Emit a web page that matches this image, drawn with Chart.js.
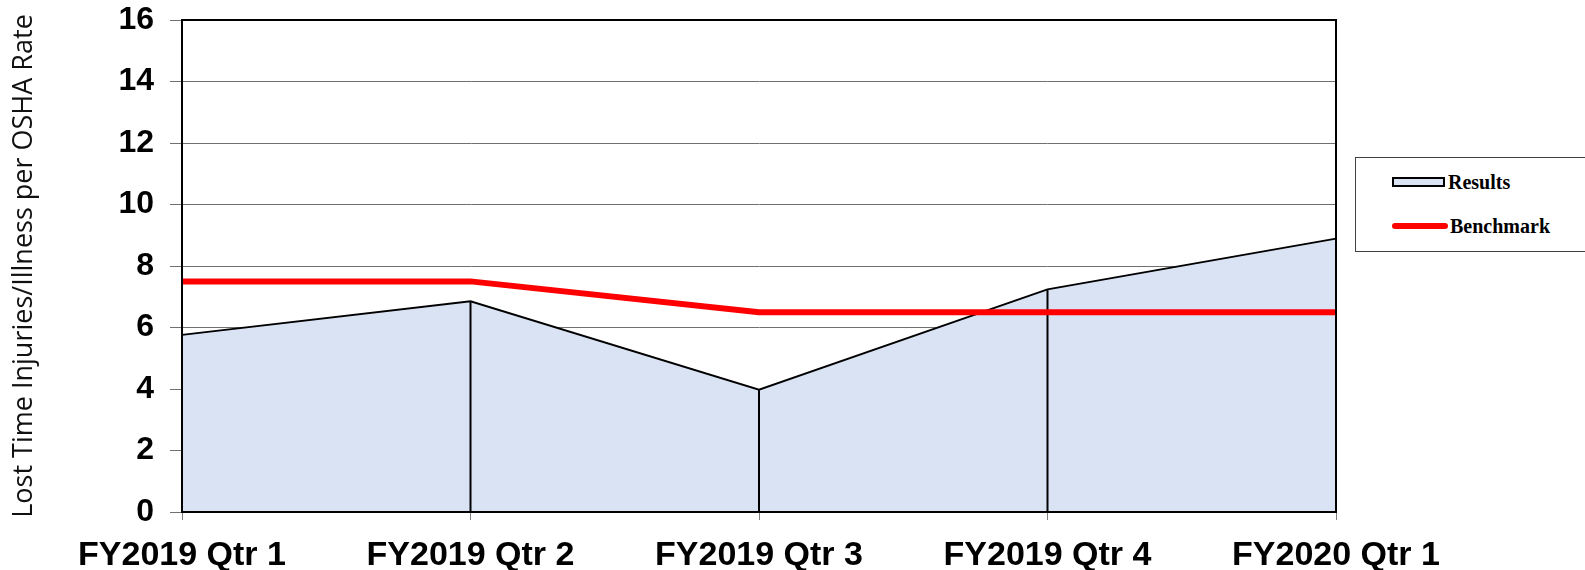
<!DOCTYPE html>
<html>
<head>
<meta charset="utf-8">
<script src="https://cdn.jsdelivr.net/npm/chart.js@4/dist/chart.umd.min.js"></script>
<style>
  html, body { margin: 0; padding: 0; background: #fff; }
  #wrap { position: relative; width: 1585px; height: 570px; }
  #legend {
    position: absolute; left: 1355px; top: 157px; width: 232px; height: 95px;
    border: 1px solid #404040; box-sizing: border-box; background: #fff;
    font-family: "Liberation Serif", serif; font-weight: bold; font-size: 20px; color: #000;
  }
  .item { position: absolute; left: 36px; display: flex; align-items: center; height: 20px; }
  .swatch { width: 53px; height: 10px; background: #dae3f3; border: 2px solid #000; box-sizing: border-box; margin-right: 3px; }
  .redline { width: 56px; height: 6px; background: #ff0000; border-radius: 3px; margin-right: 2px; }
</style>
</head>
<body>
<div id="wrap">
  <canvas id="chart" width="1585" height="570"></canvas>
  <div id="legend">
    <div class="item" style="top:14px;"><div class="swatch"></div>Results</div>
    <div class="item" style="top:58px;"><div class="redline"></div>Benchmark</div>
  </div>
</div>
<script>
// Categories and series
const quarters = ['FY2019 Qtr 1', 'FY2019 Qtr 2', 'FY2019 Qtr 3', 'FY2019 Qtr 4', 'FY2020 Qtr 1'];
const results = [5.76, 6.85, 3.98, 7.24, 8.89];
const benchmark = [7.5, 7.5, 6.5, 6.5, 6.5];
const yTicks = [0, 2, 4, 6, 8, 10, 12, 14, 16];

// Draw vertical lines from each Results point down to zero
const dropLines = {
  id: 'dropLines',
  afterDatasetDraw(chart, args) {
    if (args.index !== 0) return;
    const ctx = chart.ctx;
    const y0 = chart.scales.y.getPixelForValue(0);
    ctx.save();
    ctx.strokeStyle = '#000';
    ctx.lineWidth = 2;
    args.meta.data.forEach(pt => {
      ctx.beginPath();
      ctx.moveTo(pt.x, pt.y);
      ctx.lineTo(pt.x, y0);
      ctx.stroke();
    });
    ctx.restore();
  }
};

// Black frame round the plot area
const plotFrame = {
  id: 'plotFrame',
  afterDraw(chart) {
    const a = chart.chartArea;
    const ctx = chart.ctx;
    ctx.save();
    ctx.strokeStyle = '#000';
    ctx.lineWidth = 2;
    ctx.strokeRect(a.left, a.top, a.right - a.left, a.bottom - a.top);
    ctx.restore();
  }
};

const ctx = document.getElementById('chart');
new Chart(ctx, {
  type: 'line',
  data: {
    labels: quarters,
    datasets: [{
      label: 'Results',
      data: results,
      fill: 'origin',
      backgroundColor: '#dae3f3',
      borderColor: '#000',
      borderWidth: 2,
      pointRadius: 0,
      tension: 0,
      order: 2
    }, {
      label: 'Benchmark',
      data: benchmark,
      fill: false,
      borderColor: '#ff0000',
      borderWidth: 6,
      pointRadius: 0,
      tension: 0,
      order: 1
    }]
  },
  options: {
    responsive: false,
    animation: false,
    layout: { padding: { top: 20, right: 249, left: 0, bottom: 0 } },
    plugins: {
      legend: { display: false },
      tooltip: { enabled: false }
    },
    scales: {
      x: {
        offset: false,
        grid: { drawOnChartArea: false, drawTicks: true, tickLength: 8, color: '#808080' },
        border: { display: true, color: '#000', width: 2 },
        ticks: {
          color: '#000', padding: 15, maxRotation: 0, autoSkip: false,
          font: { family: 'Liberation Sans', weight: 'bold', size: 34 }
        },
        afterFit: s => { s.height = 58; }
      },
      y: {
        min: 0, max: 16,
        afterBuildTicks: s => { s.ticks = yTicks.map(v => ({ value: v })); },
        grid: { color: '#707070', lineWidth: 1, tickLength: 12 },
        border: { display: true, color: '#000', width: 2 },
        ticks: {
          color: '#000', padding: 16,
          font: { family: 'Liberation Sans', weight: 'bold', size: 32 }
        },
        title: {
          display: true,
          text: 'Lost Time Injuries/Illness per OSHA Rate',
          color: '#111',
          font: { family: 'Open Sans', size: 27 },
          padding: { top: 8, bottom: 0 }
        },
        afterFit: s => { s.width = 182; s.paddingTop = 0; s.paddingBottom = 0; }
      }
    }
  },
  plugins: [dropLines, plotFrame]
});
</script>
</body>
</html>
